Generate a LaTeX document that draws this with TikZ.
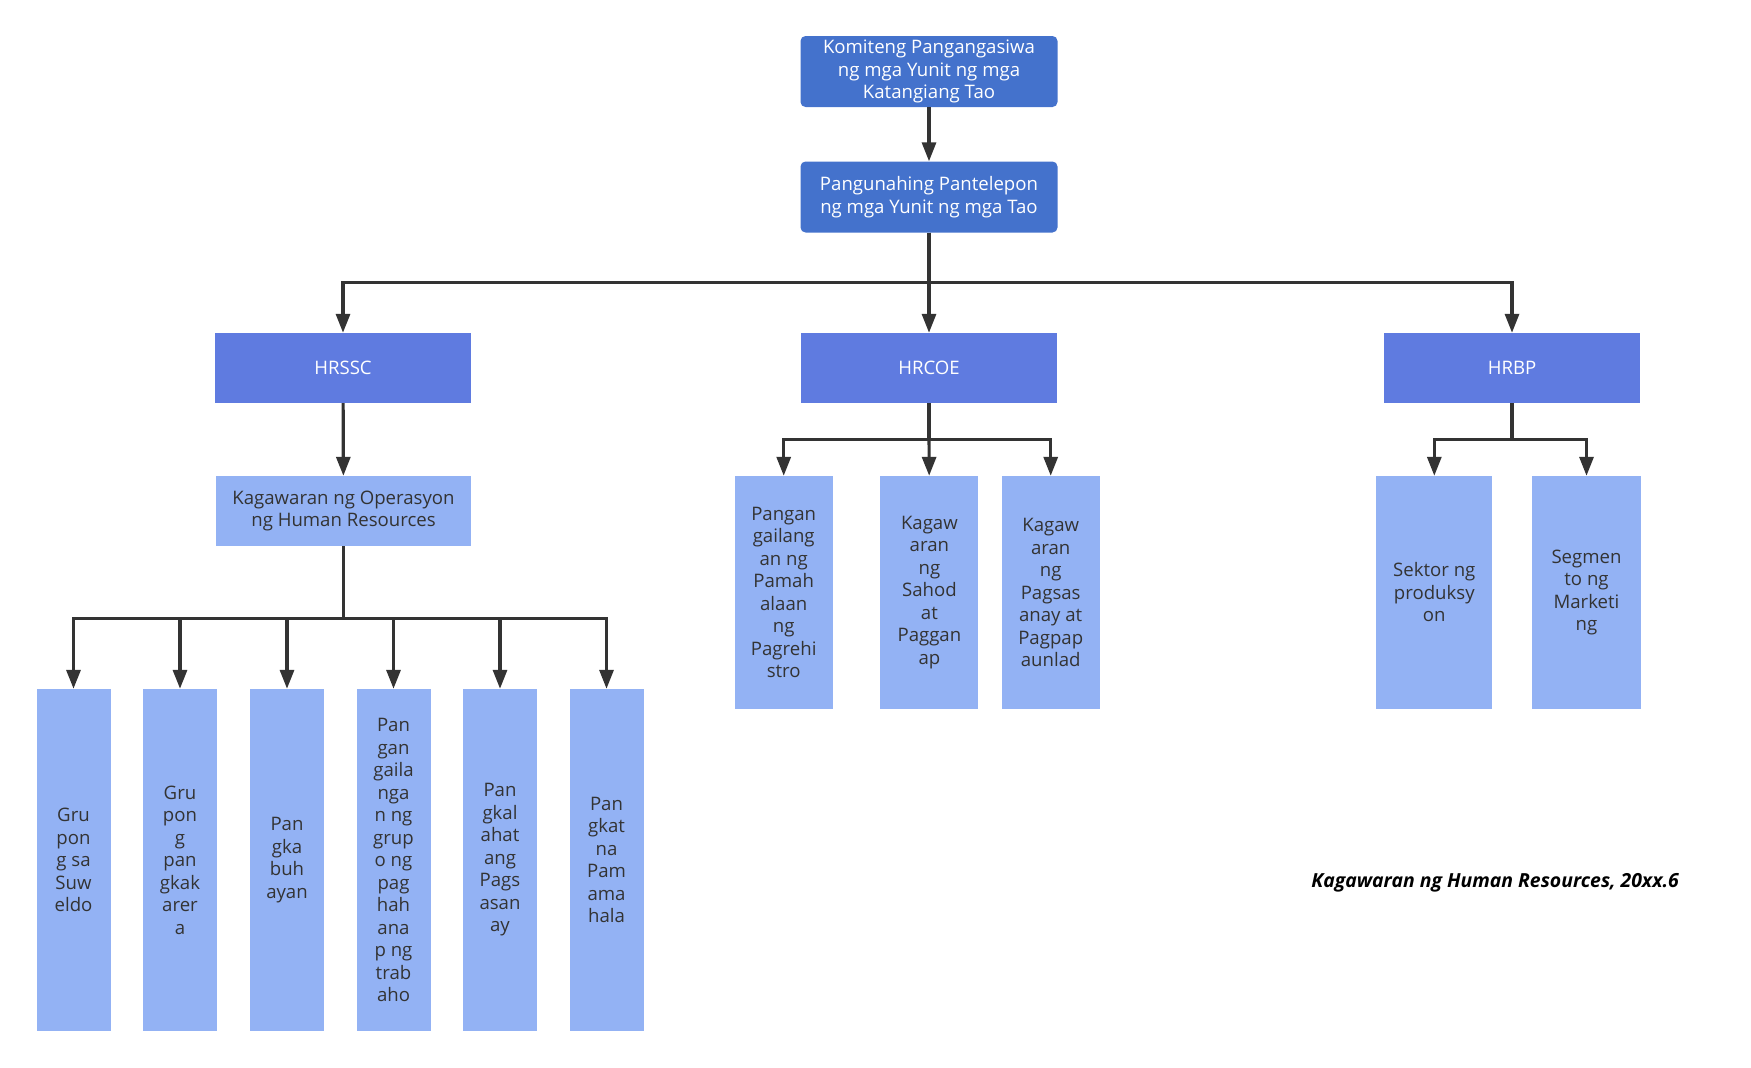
\documentclass[tikz,border=0pt]{standalone}
\usepackage{fontspec}
\setmainfont{Open Sans}
\usetikzlibrary{arrows.meta}

\definecolor{headblue}{HTML}{4472CC}
\definecolor{unitblue}{HTML}{5F7BE0}
\definecolor{deptblue}{HTML}{93B2F4}
\definecolor{linegray}{HTML}{333333}

\begin{document}
\begin{tikzpicture}[x=1pt,y=-1pt,line join=miter,>={Triangle[length=19pt,width=14pt]},
  every node/.style={inner sep=1pt,align=center,font=\fontsize{18.6}{22.5}\selectfont},
  headbox/.style={fill=headblue,text=white,rounded corners=5pt,minimum width=257pt,minimum height=71pt},
  unitbox/.style={fill=unitblue,text=white,minimum width=256pt,minimum height=70pt},
  deptbox/.style={fill=deptblue,text=linegray},
  link/.style={->,draw=linegray,line width=3.2pt}]
  \useasboundingbox (0,0) rectangle (1751,1068);
  \def\tall{342pt}
  \def\mid{233pt}
  % top of the chart
  \node[headbox] (komite) at (929,71.5) {Komiteng Pangangasiwa\\ng mga Yunit ng mga\\Katangiang Tao};
  \node[headbox] (pantel) at (929,197) {Pangunahing Pantelepon\\ng mga Yunit ng mga Tao};
  % units
  \node[unitbox] (hrssc) at (343,368) {HRSSC};
  \node[unitbox] (hrcoe) at (929,368) {HRCOE};
  \node[unitbox] (hrbp) at (1512,368) {HRBP};
  \node[deptbox,minimum width=255pt,minimum height=70pt] (operasyon) at (343.5,511) {Kagawaran ng Operasyon\\ng Human Resources};
  % HRSSC groups
  \node[deptbox,minimum width=74pt,minimum height=\tall] (suweldo) at (73.5,860) {Gru\\pon\\g sa\\Suw\\eldo};
  \node[deptbox,minimum width=74pt,minimum height=\tall] (karera) at (180,860) {Gru\\pon\\g\\pan\\gkak\\arer\\a};
  \node[deptbox,minimum width=74pt,minimum height=\tall] (buhayan) at (287,860) {Pan\\gka\\buh\\ayan};
  \node[deptbox,minimum width=74pt,minimum height=\tall] (trabaho) at (393.5,860) {Pan\\gan\\gaila\\nga\\n ng\\grup\\o ng\\pag\\hah\\ana\\p ng\\trab\\aho};
  \node[deptbox,minimum width=74pt,minimum height=\tall] (pagsasanay) at (500,860) {Pan\\gkal\\ahat\\ang\\Pags\\asan\\ay};
  \node[deptbox,minimum width=74pt,minimum height=\tall] (pamamahala) at (606.5,860) {Pan\\gkat\\na\\Pam\\ama\\hala};
  % HRCOE departments
  \node[deptbox,minimum width=98pt,minimum height=\mid] (rehistro) at (783.7,592.5) {Pangan\\gailang\\an ng\\Pamah\\alaan\\ng\\Pagrehi\\stro};
  \node[deptbox,minimum width=98pt,minimum height=\mid] (sahod) at (929.4,592.5) {Kagaw\\aran\\ng\\Sahod\\at\\Paggan\\ap};
  \node[deptbox,minimum width=98pt,minimum height=\mid] (pagunlad) at (1050.7,592.5) {Kagaw\\aran\\ng\\Pagsas\\anay at\\Pagpap\\aunlad};
  % HRBP sectors
  \node[deptbox,minimum width=116pt,minimum height=\mid] (produksyon) at (1434.3,592.5) {Sektor ng\\produksy\\on};
  \node[deptbox,minimum width=109pt,minimum height=\mid] (marketing) at (1586.5,592.5) {Segmen\\to ng\\Marketi\\ng};
  \node[anchor=east,text=black,font=\fontsize{19.4}{22}\selectfont\bfseries\itshape] (tala) at (1680,883) {Kagawaran ng Human Resources, 20xx.6};
  % connectors
  \draw[link] (komite) -- (pantel);
  \draw[link] (pantel.south) -- ++(0,50) -| (hrssc);
  \draw[link] (pantel.south) -- (hrcoe);
  \draw[link] (pantel.south) -- ++(0,50) -| (hrbp);
  \draw[link] (hrssc) -- (operasyon);
  \draw[link] (operasyon.south) -- ++(0,72) -| (suweldo);
  \draw[link] (operasyon.south) -- ++(0,72) -| (karera);
  \draw[link] (operasyon.south) -- ++(0,72) -| (buhayan);
  \draw[link] (operasyon.south) -- ++(0,72) -| (trabaho);
  \draw[link] (operasyon.south) -- ++(0,72) -| (pagsasanay);
  \draw[link] (operasyon.south) -- ++(0,72) -| (pamamahala);
  \draw[link] (hrcoe.south) -- ++(0,36) -| (rehistro);
  \draw[link] (hrcoe.south) -- (sahod);
  \draw[link] (hrcoe.south) -- ++(0,36) -| (pagunlad);
  \draw[link] (hrbp.south) -- ++(0,36) -| (produksyon);
  \draw[link] (hrbp.south) -- ++(0,36) -| (marketing);
\end{tikzpicture}
\end{document}
